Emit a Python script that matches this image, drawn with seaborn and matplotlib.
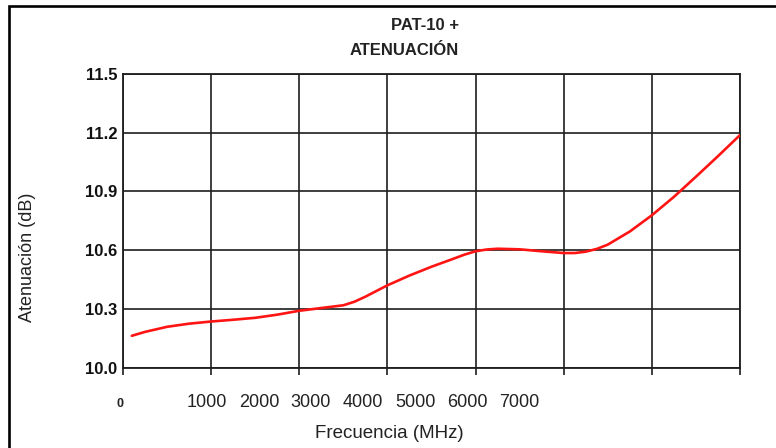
import matplotlib
matplotlib.use("Agg")
import matplotlib.pyplot as plt
from matplotlib.patches import Rectangle
import pandas as pd
import seaborn as sns

# Attenuation curve of the PAT-10 + (frequency in MHz, attenuation in dB)
freq_mhz = [100, 250, 500, 750, 1000, 1250, 1500, 1750, 2000, 2250, 2500,
            2625, 2750, 3000, 3250, 3500, 3750, 3875, 4000, 4125, 4250, 4500,
            4750, 5000, 5125, 5250, 5375, 5500, 5750, 6000, 6250, 6500, 6750,
            7000]
atten_db = [10.162, 10.182, 10.208, 10.224, 10.235, 10.244, 10.254, 10.270,
            10.290, 10.304, 10.318, 10.336, 10.362, 10.420, 10.470, 10.515,
            10.556, 10.577, 10.594, 10.603, 10.607, 10.604, 10.594, 10.585,
            10.585, 10.592, 10.606, 10.628, 10.695, 10.778, 10.872, 10.975,
            11.080, 11.188]

y_ticks = [10.0, 10.3, 10.6, 10.9, 11.2, 11.5]
x_grid = [0, 1000, 2000, 3000, 4000, 5000, 6000, 7000]
x_zero_label = "0"
x_tick_labels = ["1000", "2000", "3000", "4000", "5000", "6000", "7000"]
title_lines = ["PAT-10 +", "ATENUACIÓN"]
x_label = "Frecuencia (MHz)"
y_label = "Atenuación (dB)"

sns.set_theme(style="white")
plt.rcParams["font.family"] = ["Liberation Sans", "DejaVu Sans"]

W, H = 776, 448
fig = plt.figure(figsize=(W / 100, H / 100), dpi=100)
fig.patch.set_facecolor("white")


def fx(px):
    return px / W


def fy(py):
    return 1 - py / H


# plot area in pixels
L, R, T, B = 123, 740, 74, 367.5
ax = fig.add_axes([fx(L), fy(B), (R - L) / W, (B - T) / H])

df = pd.DataFrame({"freq": freq_mhz, "atten": atten_db})
sns.lineplot(data=df, x="freq", y="atten", ax=ax, color="#ff1414",
             linewidth=1.9, zorder=5, solid_joinstyle="round",
             solid_capstyle="round")

ax.set_xlim(0, 7000)
ax.set_ylim(10.0, 11.5)
ax.set_xticks(x_grid)
ax.set_xticklabels([])
ax.set_yticks(y_ticks)
ax.set_yticklabels([f"{v:.1f}" for v in y_ticks], fontsize=12,
                   fontweight="bold", color="#111111")
ax.grid(True, color="#1e1e1e", linewidth=1.2)
ax.tick_params(axis="x", direction="out", length=5, width=1.2,
               color="#1e1e1e", bottom=True)
ax.tick_params(axis="y", length=0, pad=4)
for s in ax.spines.values():
    s.set_color("#1e1e1e")
    s.set_linewidth(1.3)
ax.set_xlabel("")
ax.set_ylabel("")

# frequency labels under the axis
fig.text(fx(120), fy(407), x_zero_label, ha="center", va="baseline",
         fontsize=9, fontweight="bold", color="#222222")
for i, lab in enumerate(x_tick_labels):
    fig.text(fx(207 + 52 * i), fy(407), lab, ha="center", va="baseline",
             fontsize=13, color="#222222")

fig.text(fx(389), fy(438), x_label, ha="center", va="baseline",
         fontsize=13.5, color="#222222")
fig.text(fx(28), fy(257), y_label, ha="center", va="center", rotation=90,
         fontsize=13, color="#222222")

# two-line title, right aligned
fig.text(fx(459), fy(30), title_lines[0], ha="right", va="baseline",
         fontsize=12, fontweight="bold", color="#222222")
fig.text(fx(459), fy(55), title_lines[1], ha="right", va="baseline",
         fontsize=12, fontweight="bold", color="#222222")

# outer frame
fig.patches.append(Rectangle((fx(9), -0.1), 1.2, fy(6.5) + 0.1, fill=False,
                             edgecolor="black", linewidth=1.9,
                             transform=fig.transFigure, figure=fig))

fig.savefig("out.png", dpi=100)
